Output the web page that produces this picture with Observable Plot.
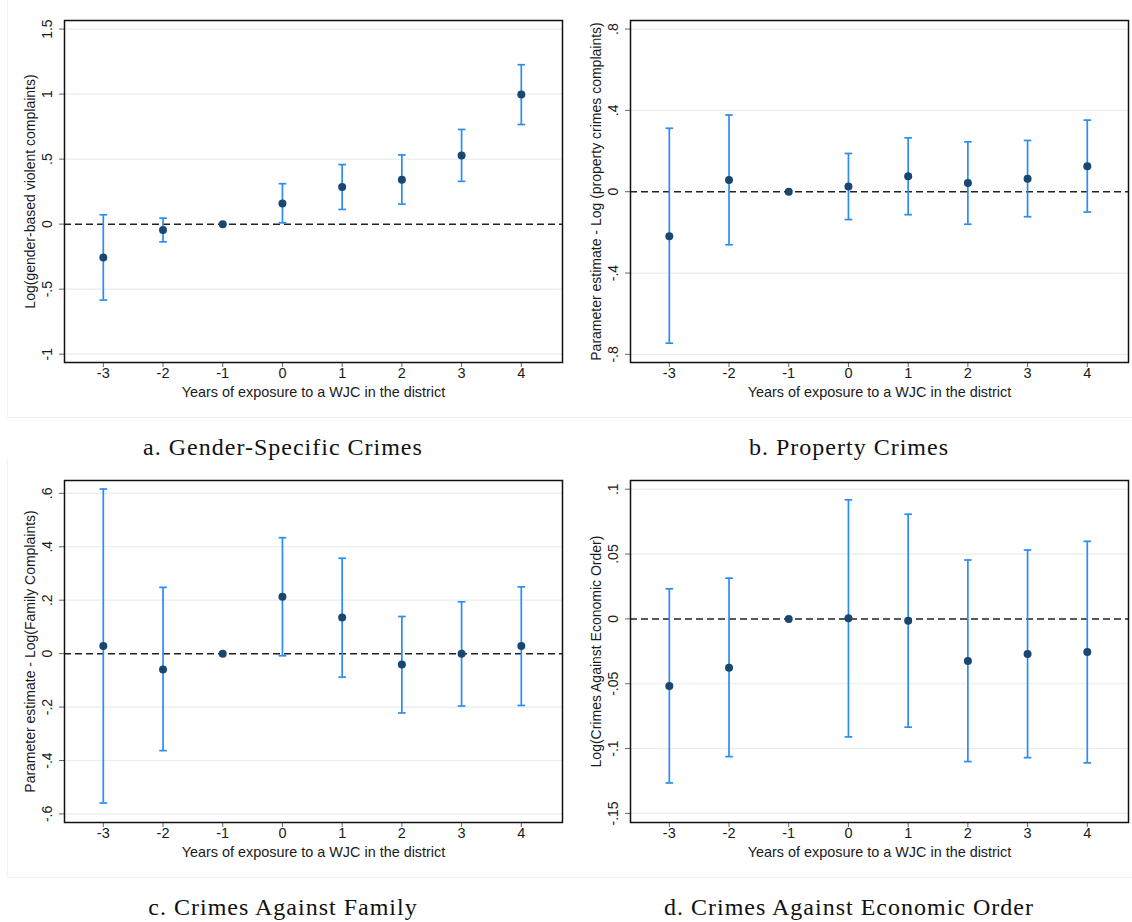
<!DOCTYPE html>
<html>
<head>
<meta charset="utf-8">
<script src="https://cdn.jsdelivr.net/npm/d3@7"></script>
<script src="https://cdn.jsdelivr.net/npm/@observablehq/plot@0.6"></script>
<style>
  body { margin: 0; background: #fff; }
  #wrap { position: relative; width: 1132px; height: 922px; overflow: hidden; }
  .panel { position: absolute; width: 566px; height: 460px; }
  .panel svg { position: absolute; left: 0; top: 0; }
  .outer { position: absolute; left: 7px; top: -2px; width: 600px; height: 420px;
           border-left: 1px solid #eef3f4; border-bottom: 1px solid #eef3f4; box-sizing: border-box; }
  .right .outer { border-left: none; left: 0; }
  .caption { position: absolute; left: 0; width: 566px; top: 427px; height: 40px; line-height: 40px;
             text-align: center; font-family: "Liberation Serif", "DejaVu Serif", serif;
             font-size: 24px; letter-spacing: 1px; color: #111; }
  .panel svg g[aria-label="x-axis tick"] path,
  .panel svg g[aria-label="y-axis tick"] path { stroke: #666; }
</style>
</head>
<body>
<div id="wrap"></div>
<script>
// Event-study estimates by years of exposure to a Women's Justice Center (WJC)
const years = [-3, -2, -1, 0, 1, 2, 3, 4];
const xTicks = [-3, -2, -1, 0, 1, 2, 3, 4];
const xTickLabels = ["-3", "-2", "-1", "0", "1", "2", "3", "4"];

// a. Gender-specific crimes
const genderEst = [-0.257, -0.046, 0, 0.159, 0.285, 0.342, 0.527, 0.997];
const genderLo  = [-0.584, -0.136, null, 0.010, 0.113, 0.154, 0.329, 0.766];
const genderHi  = [0.072, 0.046, null, 0.311, 0.458, 0.532, 0.728, 1.226];
const genderTicks = [-1, -0.5, 0, 0.5, 1, 1.5];
const genderTickLabels = ["-1", "-.5", "0", ".5", "1", "1.5"];

// b. Property crimes
const propertyEst = [-0.219, 0.058, 0, 0.026, 0.076, 0.043, 0.064, 0.125];
const propertyLo  = [-0.745, -0.261, null, -0.137, -0.113, -0.160, -0.123, -0.100];
const propertyHi  = [0.312, 0.377, null, 0.188, 0.265, 0.245, 0.252, 0.352];
const propertyTicks = [-0.8, -0.4, 0, 0.4, 0.8];
const propertyTickLabels = ["-.8", "-.4", "0", ".4", ".8"];

// c. Crimes against family
const familyEst = [0.029, -0.059, 0, 0.213, 0.135, -0.041, 0.000, 0.029];
const familyLo  = [-0.559, -0.363, null, -0.008, -0.088, -0.222, -0.196, -0.194];
const familyHi  = [0.616, 0.248, null, 0.434, 0.357, 0.139, 0.194, 0.250];
const familyTicks = [-0.6, -0.4, -0.2, 0, 0.2, 0.4, 0.6];
const familyTickLabels = ["-.6", "-.4", "-.2", "0", ".2", ".4", ".6"];

// d. Crimes against economic order
const economicEst = [-0.0518, -0.0376, 0, 0.0005, -0.0015, -0.0325, -0.0270, -0.0255];
const economicLo  = [-0.1265, -0.1062, null, -0.0910, -0.0835, -0.1100, -0.1070, -0.1110];
const economicHi  = [0.0232, 0.0314, null, 0.0918, 0.0807, 0.0454, 0.0531, 0.0598];
const economicTicks = [-0.15, -0.1, -0.05, 0, 0.05, 0.1];
const economicTickLabels = ["-.15", "-.1", "-.05", "0", ".05", ".1"];

const xTitle = "Years of exposure to a WJC in the district";

const panels = [
  { est: genderEst, lo: genderLo, hi: genderHi, yDomain: [-1.064, 1.566],
    yTicks: genderTicks, yLabels: genderTickLabels,
    yTitle: "Log(gender-based violent complaints)", caption: "a.  Gender-Specific Crimes" },
  { est: propertyEst, lo: propertyLo, hi: propertyHi, yDomain: [-0.84, 0.842],
    yTicks: propertyTicks, yLabels: propertyTickLabels,
    yTitle: "Parameter estimate - Log (property crimes complaints)", caption: "b.  Property Crimes" },
  { est: familyEst, lo: familyLo, hi: familyHi, yDomain: [-0.632, 0.648],
    yTicks: familyTicks, yLabels: familyTickLabels,
    yTitle: "Parameter estimate - Log(Family Complaints)", caption: "c.  Crimes Against Family" },
  { est: economicEst, lo: economicLo, hi: economicHi, yDomain: [-0.157, 0.1067],
    yTicks: economicTicks, yLabels: economicTickLabels,
    yTitle: "Log(Crimes Against Economic Order)", caption: "d.  Crimes Against Economic Order" }
];

const ciColor = "#2b8cf2";
const dotColor = "#1a476f";
const textColor = "#1a1a1a";

// Horizontal cap drawn at each end of a confidence interval
const capSymbol = { draw(ctx) { ctx.moveTo(-3.8, 0); ctx.lineTo(3.8, 0); } };

function makePanel(p) {
  const rows = years.map((x, i) => ({ x, est: p.est[i], lo: p.lo[i], hi: p.hi[i] }));
  const ci = rows.filter(d => d.lo != null);
  const yTickRows = p.yTicks.map((v, i) => ({ v, label: p.yLabels[i] }));
  const xTickRows = xTicks.map((v, i) => ({ v, label: xTickLabels[i] }));
  return Plot.plot({
    width: 566, height: 420,
    marginLeft: 64, marginRight: 4, marginTop: 20, marginBottom: 58,
    style: { fontFamily: "'Liberation Sans', Arial, sans-serif", fontSize: "14px", color: textColor, background: "transparent" },
    x: { domain: [-3.65, 4.69], ticks: xTicks, tickFormat: () => "", tickSize: 5, tickPadding: 0, label: null },
    y: { domain: p.yDomain, ticks: p.yTicks, tickFormat: () => "", tickSize: 5, tickPadding: 0, label: null },
    marks: [
      Plot.ruleY(p.yTicks.filter(v => v !== 0), { stroke: "#e6eef0", strokeWidth: 1.2 }),
      Plot.ruleY([0], { stroke: "#222", strokeWidth: 1.5, strokeDasharray: "7,4" }),
      Plot.ruleX(ci, { x: "x", y1: "lo", y2: "hi", stroke: ciColor, strokeWidth: 1.7 }),
      Plot.dot(ci, { x: "x", y: "lo", symbol: capSymbol, fill: "none", stroke: ciColor, strokeWidth: 1.7 }),
      Plot.dot(ci, { x: "x", y: "hi", symbol: capSymbol, fill: "none", stroke: ciColor, strokeWidth: 1.7 }),
      Plot.dot(rows, { x: "x", y: "est", r: 4, fill: dotColor, stroke: "none" }),
      Plot.frame({ stroke: "#111", strokeWidth: 1.5 }),
      Plot.text(xTickRows, { x: "v", text: "label", frameAnchor: "bottom", textAnchor: "middle",
                             dy: 15, fontSize: 14.5, fill: textColor }),
      Plot.text(yTickRows, { y: "v", text: "label", frameAnchor: "left", textAnchor: "middle",
                             dx: -17, rotate: -90, fontSize: 14, fill: textColor }),
      Plot.text([p.yTitle], { frameAnchor: "left", textAnchor: "middle", dx: -34, rotate: -90,
                              fontSize: 14, fill: textColor }),
      Plot.text([xTitle], { frameAnchor: "bottom", textAnchor: "middle", dy: 34, fontSize: 14.4, fill: textColor })
    ]
  });
}

const wrap = document.getElementById("wrap");
const positions = [[0, 0], [566, 0], [0, 460], [566, 460]];
panels.forEach((p, i) => {
  const div = document.createElement("div");
  div.className = "panel" + (i % 2 ? " right" : "");
  div.style.left = positions[i][0] + "px";
  div.style.top = positions[i][1] + "px";
  const outer = document.createElement("div");
  outer.className = "outer";
  div.appendChild(outer);
  div.appendChild(makePanel(p));
  const cap = document.createElement("div");
  cap.className = "caption";
  cap.textContent = p.caption;
  div.appendChild(cap);
  wrap.appendChild(div);
});
</script>
</body>
</html>
